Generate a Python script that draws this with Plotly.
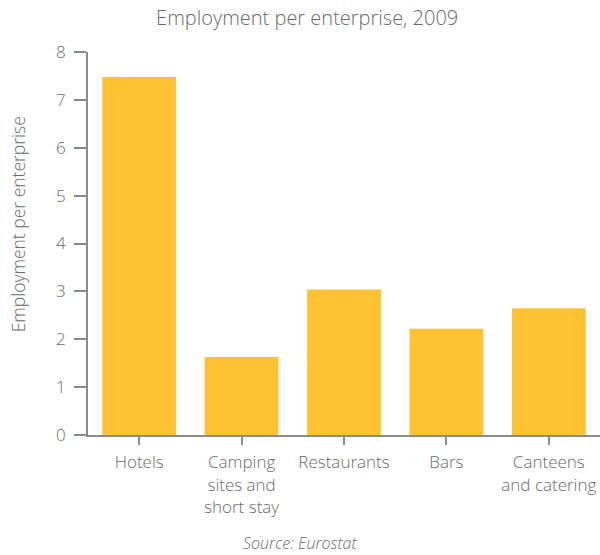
import plotly.graph_objects as go

categories = ["Hotels", "Camping<br>sites and<br>short stay", "Restaurants", "Bars", "Canteens<br>and catering"]
values = [7.48, 1.63, 3.04, 2.22, 2.65]
y_ticks = [0, 1, 2, 3, 4, 5, 6, 7, 8]

TXT = "#6a6a6a"
FONT = "Open Sans"

fig = go.Figure(go.Bar(
    x=categories, y=values,
    marker=dict(color="#FDC132", line=dict(width=0)),
))

fig.update_layout(
    width=600, height=555,
    margin=dict(l=88, r=0, t=52, b=120),
    paper_bgcolor="white", plot_bgcolor="white",
    bargap=0.28,
    showlegend=False,
    font=dict(family=FONT, color=TXT, size=15, weight=300),
    title=dict(text="Employment per enterprise, 2009", x=0.512, xanchor="center",
               y=0.968, yanchor="middle", font=dict(size=20, color=TXT, family=FONT, weight=300)),
    annotations=[
        dict(text="<i>Source: Eurostat</i>", xref="paper", yref="paper",
             x=0.414, y=-0.281, xanchor="center", yanchor="middle",
             showarrow=False, font=dict(size=16, color=TXT, family=FONT, weight=300)),
        dict(text="Employment per enterprise", xref="paper", yref="paper",
             x=-0.136, y=0.551, xanchor="center", yanchor="middle", textangle=-90,
             showarrow=False, font=dict(size=17.5, color=TXT, family=FONT, weight=300)),
    ],
)
fig.update_xaxes(
    showline=True, linecolor="#8a8a8a", linewidth=2,
    ticks="outside", ticklen=8, tickcolor="#8a8a8a", tickwidth=1.5,
    tickfont=dict(size=17, color=TXT), showgrid=False, ticklabelstandoff=3,
)
fig.update_yaxes(
    range=[0, 8], tickvals=y_ticks,
    showline=True, linecolor="#8a8a8a", linewidth=2,
    ticks="outside", ticklen=12, tickcolor="#8a8a8a", tickwidth=1.5,
    tickfont=dict(size=17, color=TXT), showgrid=False, zeroline=False,
    ticklabelstandoff=5,
)

# remove the page's default body margin so the 600x555 figure fills the window
fig.write_html("out.html", config={"displayModeBar": False},
               post_script="document.body.style.margin='0';document.body.style.overflow='hidden';")
